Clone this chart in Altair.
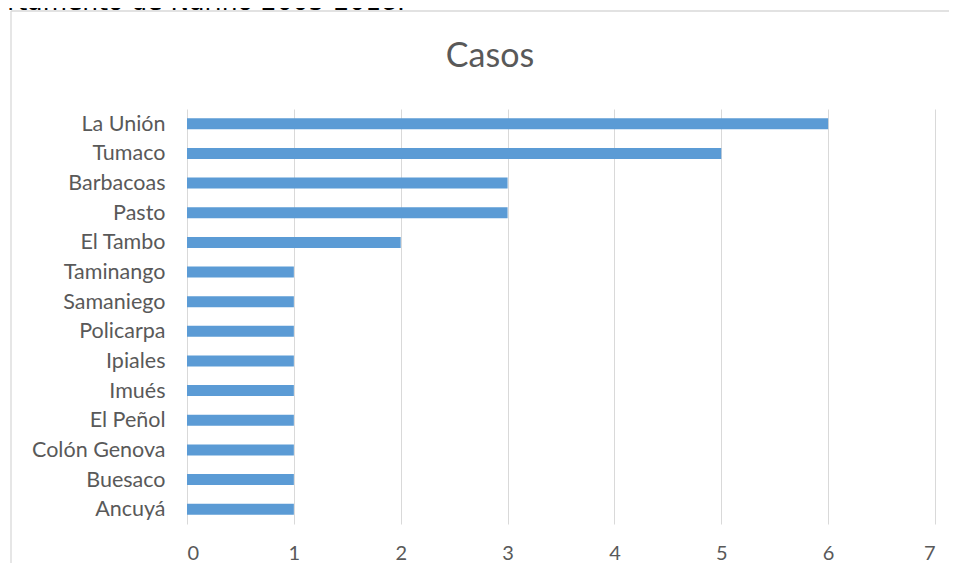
import altair as alt
import pandas as pd

municipios = ["La Unión", "Tumaco", "Barbacoas", "Pasto ", "El Tambo ", "Taminango",
              "Samaniego", "Policarpa", "Ipiales", "Imués", "El Peñol",
              "Colón Genova", "Buesaco", "Ancuyá"]
casos = [6, 5, 3, 3, 2, 1, 1, 1, 1, 1, 1, 1, 1, 1]
x_ticks = [0, 1, 2, 3, 4, 5, 6, 7]
titulo = "Casos"
caption = "Departamento de Nariño 2005-2018."

df = pd.DataFrame({"municipio": municipios, "casos": casos})

W, H = 748, 415
FONT = "Lato"
GRAY = "#595959"
BORDER = "#D9D9D9"

base = alt.Chart(df)

bars = base.mark_bar(color="#5B9BD5").encode(
    x=alt.X("casos:Q",
            scale=alt.Scale(domain=[0, 7], nice=False, zero=True),
            axis=alt.Axis(values=x_ticks, title=None, grid=True, gridColor="#D9D9D9",
                          gridWidth=1, domain=False, ticks=False, labelFontSize=20,
                          labelFont=FONT, labelColor=GRAY, labelPadding=19,
                          format="d")),
    y=alt.Y("municipio:N", sort=municipios,
            scale=alt.Scale(paddingInner=0.63, paddingOuter=0.315),
            axis=alt.Axis(title=None, domain=False, ticks=False, grid=False,
                          labelFontSize=21.5, labelFont=FONT, labelColor=GRAY,
                          labelPadding=22, labelOffset=1,
                          labelExpr="replace(datum.label, regexp(' $'), '\u00a0\u00a0')")),
)

one = alt.Chart(alt.Data(values=[{"t": titulo, "c": caption}]))

top_line = one.mark_rule(stroke=BORDER, strokeWidth=1.3).encode(
    x=alt.value(-176), x2=alt.value(W + 20), y=alt.value(-98)
)
left_line = one.mark_rule(stroke=BORDER, strokeWidth=1.3).encode(
    x=alt.value(-176), y=alt.value(-98), y2=alt.value(H + 60)
)

title = one.mark_text(font=FONT, fontSize=34, color=GRAY, align="center",
                      baseline="middle").encode(
    x=alt.value(303), y=alt.value(-52), text="t:N"
)

cap = one.mark_text(font="DejaVu Sans", fontSize=25, color="#000000", align="right",
                    baseline="alphabetic").encode(
    x=alt.value(218), y=alt.value(-99), text="c:N"
)

chart = alt.layer(top_line, left_line, bars, title, cap).properties(
    width=W, height=H,
    autosize=alt.AutoSizeParams(type="none"),
    padding={"left": 179, "top": 101, "right": 14, "bottom": 39},
).configure_view(stroke=None)

chart.save("out.html", embed_options={"renderer": "svg", "actions": False})
